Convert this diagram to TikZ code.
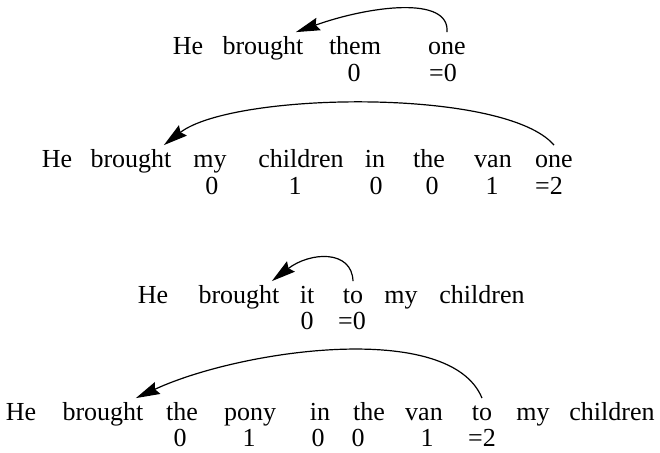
\documentclass[tikz,border=0pt]{standalone}
\usepackage{fontspec}
\setmainfont{Liberation Serif}
\usetikzlibrary{arrows.meta}
\begin{document}
\begin{tikzpicture}[x=0.5pt, y=-0.5pt,
  font=\fontsize{13pt}{15pt}\selectfont,
  word/.style={anchor=base, inner sep=1pt, text height=9.75pt},
  num/.style={anchor=base, inner sep=1pt},
  arr/.style={-{Stealth[length=12pt, width=6.5pt, inset=1.5pt]}, line width=0.6pt}]
  \useasboundingbox (0,0) rectangle (660,452);
  % 첫째 줄
  \node[word] (he1) at (188,54) {He};
  \node[word] (br1) at (263,54) {brought};
  \node[word] (them1) at (355,54) {them};
  \node[word] (one1) at (447,54) {one};
  \node[num] (n1a) at (354,81) {0};
  \node[num] (n1b) at (443,81) {=0};
  \draw[arr] (one1.north) .. controls +(3,-37) and +(73,-26) .. ([xshift=-5pt]br1.north east);
  % 둘째 줄
  \node[word] (he2) at (57,167) {He};
  \node[word] (br2) at (131,167) {brought};
  \node[word] (my2) at (210,167) {my};
  \node[word] (ch2) at (301,167) {children};
  \node[word] (in2) at (375,167) {in};
  \node[word] (the2) at (429,167) {the};
  \node[word] (van2) at (493,167) {van};
  \node[word] (one2) at (554,167) {one};
  \node[num] (n2a) at (212,194) {0};
  \node[num] (n2b) at (295,194) {1};
  \node[num] (n2c) at (376,194) {0};
  \node[num] (n2d) at (432,194) {0};
  \node[num] (n2e) at (492,194) {1};
  \node[num] (n2f) at (549,194) {=2};
  \draw[arr] (one2.north) .. controls +(-49,-57.5) and +(69.5,-53.5) .. ([xshift=-5pt]br2.north east);
  % 셋째 줄
  \node[word] (he3) at (153,303) {He};
  \node[word] (br3) at (239,303) {brought};
  \node[word] (it3) at (307,303) {it};
  \node[word] (to3) at (353,303) {to};
  \node[word] (my3) at (401,303) {my};
  \node[word] (ch3) at (482,303) {children};
  \node[num] (n3a) at (307,329) {0};
  \node[num] (n3b) at (352,329) {=0};
  \draw[arr] (to3.north) .. controls +(-1,-31.5) and +(38.5,-29.5) .. ([xshift=-5pt]br3.north east);
  % 넷째 줄
  \node[word] (he4) at (21,420) {He};
  \node[word] (br4) at (103,420) {brought};
  \node[word] (the4a) at (182,420) {the};
  \node[word] (pony4) at (250,420) {pony};
  \node[word] (in4) at (320,420) {in};
  \node[word] (the4b) at (369,420) {the};
  \node[word] (van4) at (424,420) {van};
  \node[word] (to4) at (482,420) {to};
  \node[word] (my4) at (533,420) {my};
  \node[word] (ch4) at (612,420) {children};
  \node[num] (n4a) at (180,446) {0};
  \node[num] (n4b) at (249,446) {1};
  \node[num] (n4c) at (318,446) {0};
  \node[num] (n4d) at (358,446) {0};
  \node[num] (n4e) at (427,446) {1};
  \node[num] (n4f) at (482,446) {=2};
  \draw[arr] (to4.north) .. controls +(-32,-78.5) and +(104.5,-48.5) .. ([xshift=-5pt]br4.north east);
\end{tikzpicture}
\end{document}
